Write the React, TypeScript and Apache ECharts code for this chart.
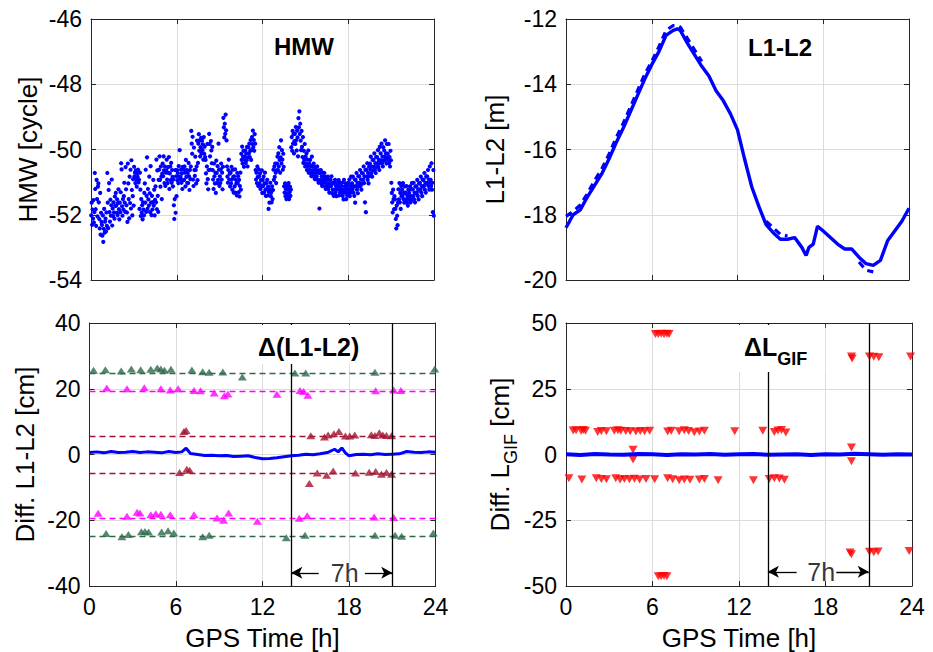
import React, { useEffect, useRef } from "react";
import * as echarts from "echarts";

// ---------- DATA ----------
const hmwBinHours = 0.25;
// HMW samples grouped in consecutive 0.25 h bins (values in cycles)
const hmwBins: number[][] = [
  [-52.02,-51.63,-52.31,-51.84,-52.12,-51.55,-52.24,-51.92],
  [-50.72,-51.21,-51.83,-52.34,-50.93,-51.52,-52.05,-51.14],
  [-51.04,-51.62,-52.13,-52.42,-51.33,-52.61,-51.94,-52.22],
  [-52.31,-52.64,-52.02,-52.83,-52.43,-51.82,-52.55,-52.21],
  [-52.12,-52.51,-51.93,-52.34,-50.72,-51.63,-52.41,-51.24],
  [-51.03,-51.92,-52.21,-51.54,-52.03,-51.71,-50.92,-52.33],
  [-51.81,-52.04,-51.62,-51.93,-52.12,-51.44,-51.73,-51.33],
  [-51.72,-51.94,-51.53,-52.01,-51.64,-51.22,-51.83,-52.14],
  [-51.63,-51.92,-51.31,-50.42,-50.61,-51.74,-52.03,-51.52],
  [-51.84,-51.43,-51.02,-51.63,-51.91,-50.54,-51.22,-51.71],
  [-51.93,-52.22,-50.43,-51.04,-51.52,-52.11,-50.83,-51.64],
  [-50.62,-51.81,-50.33,-51.24,-52.02,-51.43,-50.91,-51.72],
  [-50.53,-50.82,-50.71,-51.03,-50.64,-50.92,-51.14,-50.73],
  [-50.84,-50.62,-51.01,-50.93,-51.82,-50.71,-51.23,-52.04],
  [-51.52,-51.93,-51.71,-52.14,-51.62,-51.84,-52.02,-51.33],
  [-51.04,-51.63,-50.62,-51.91,-51.42,-50.24,-51.82,-51.21],
  [-51.53,-51.72,-50.83,-51.34,-51.92,-50.51,-51.63,-52.01],
  [-51.42,-51.84,-51.61,-50.93,-51.72,-51.23,-52.02,-51.54],
  [-51.13,-51.62,-50.31,-51.83,-50.64,-51.42,-51.91,-50.93],
  [-50.62,-50.21,-50.93,-51.14,-50.52,-50.83,-51.52,-50.74],
  [-50.43,-50.82,-50.21,-50.64,-51.03,-50.52,-51.12,-50.71],
  [-50.64,-50.31,-50.92,-51.03,-50.54,-50.72,-50.23,-51.21],
  [-50.73,-50.52,-50.94,-50.41,-51.02,-50.63,-50.84,-51.13],
  [-50.92,-51.71,-52.13,-51.52,-50.63,-51.94,-50.82,-51.43],
  [-50.63,-50.94,-50.72,-51.03,-50.51,-50.83,-50.02,-50.91],
  [-50.84,-50.62,-51.02,-50.73,-51.21,-50.53,-50.94,-50.61],
  [-50.93,-50.52,-50.71,-51.13,-50.32,-50.84,-50.63,-51.02],
  [-50.72,-51.03,-50.41,-50.82,-51.24,-50.63,-50.91,-50.52],
  [-49.43,-49.82,-50.13,-49.61,-50.92,-51.12,-49.94,-50.63],
  [-50.81,-50.22,-50.63,-51.04,-50.52,-49.73,-50.94,-50.41],
  [-49.82,-49.53,-50.04,-49.72,-50.21,-49.93,-49.64,-50.12],
  [-49.73,-50.02,-49.84,-50.31,-49.62,-50.13,-49.91,-50.23],
  [-50.32,-50.73,-51.04,-50.52,-49.83,-50.91,-51.22,-50.63],
  [-49.52,-49.83,-50.21,-50.62,-49.74,-50.03,-50.42,-49.92],
  [-50.63,-50.92,-51.21,-50.43,-50.82,-51.04,-50.71,-51.33],
  [-50.34,-50.72,-51.03,-50.51,-50.93,-49.82,-50.62,-51.12],
  [-50.82,-51.03,-50.61,-50.43,-50.92,-50.71,-51.22,-50.53],
  [-49.03,-49.32,-49.63,-49.21,-49.52,-48.93,-49.41,-49.72],
  [-50.52,-50.83,-51.02,-50.63,-50.31,-50.92,-50.74,-51.13],
  [-50.71,-51.04,-50.53,-50.92,-51.23,-50.62,-50.84,-51.32],
  [-50.82,-51.13,-50.61,-51.32,-50.93,-51.04,-51.41,-50.72],
  [-51.03,-50.82,-51.31,-50.93,-51.44,-51.12,-50.71,-51.23],
  [-50.13,-50.32,-49.91,-50.43,-50.22,-50.04,-50.53,-50.31],
  [-50.22,-50.03,-50.41,-50.12,-50.33,-49.92,-50.52,-50.24],
  [-49.93,-50.12,-49.82,-50.23,-50.04,-49.71,-50.32,-50.02],
  [-49.62,-49.83,-49.42,-49.93,-49.71,-50.04,-49.53,-49.82],
  [-50.63,-50.92,-50.71,-51.03,-50.52,-50.84,-51.12,-50.61],
  [-50.82,-51.04,-50.73,-51.21,-50.93,-51.12,-50.64,-51.33],
  [-50.93,-51.12,-50.83,-51.32,-51.04,-50.71,-51.23,-51.42],
  [-51.03,-51.22,-50.93,-51.41,-51.14,-51.82,-51.31,-51.63],
  [-51.23,-51.02,-51.43,-51.32,-51.62,-51.13,-51.52,-51.24],
  [-50.62,-50.93,-50.52,-50.84,-50.43,-50.71,-51.03,-50.64],
  [-50.43,-50.22,-50.63,-50.12,-50.52,-49.93,-50.32,-50.71],
  [-50.24,-49.72,-50.43,-50.02,-50.31,-50.62,-50.13,-50.53],
  [-51.13,-51.32,-51.04,-51.43,-51.22,-51.52,-51.12,-51.34],
  [-51.22,-51.43,-51.03,-51.52,-51.31,-51.14,-51.42,-51.23],
  [-49.93,-49.62,-50.04,-49.43,-49.82,-49.53,-50.12,-49.74],
  [-49.52,-49.83,-49.31,-49.72,-50.03,-49.42,-49.63,-50.21],
  [-49.04,-49.32,-48.83,-49.52,-49.21,-49.73,-50.02,-49.43],
  [-49.92,-50.23,-49.62,-50.41,-50.04,-50.32,-49.83,-50.52],
  [-50.22,-50.43,-50.12,-50.63,-50.31,-50.52,-50.03,-50.71],
  [-50.43,-50.62,-50.32,-50.73,-50.51,-50.82,-50.22,-50.64],
  [-50.52,-50.73,-50.43,-50.84,-50.62,-50.91,-50.53,-50.72],
  [-50.63,-50.82,-50.52,-50.93,-50.71,-51.02,-50.64,-51.81],
  [-50.72,-50.93,-50.63,-51.04,-50.82,-51.12,-50.71,-50.94],
  [-50.83,-51.02,-50.72,-51.13,-50.92,-51.21,-50.84,-51.03],
  [-50.92,-51.13,-50.83,-51.22,-51.04,-51.32,-50.93,-51.12],
  [-50.93,-51.12,-50.82,-51.34,-51.02,-51.23,-51.04,-51.42],
  [-51.02,-51.23,-50.93,-51.32,-51.12,-51.43,-51.04,-51.22],
  [-51.03,-51.22,-50.94,-51.41,-51.13,-51.32,-51.02,-51.24],
  [-51.12,-51.33,-51.02,-51.42,-51.22,-51.53,-50.93,-51.31],
  [-51.13,-51.32,-51.04,-51.52,-51.23,-51.41,-51.12,-51.34],
  [-51.02,-51.23,-50.92,-51.43,-51.12,-51.32,-50.83,-51.21],
  [-51.04,-51.22,-50.83,-51.32,-51.13,-51.42,-50.92,-51.63],
  [-50.93,-51.12,-50.72,-51.23,-51.02,-51.34,-50.82,-51.13],
  [-50.82,-51.03,-50.63,-51.12,-50.92,-51.23,-50.72,-51.04],
  [-50.73,-50.92,-50.52,-51.03,-50.82,-51.62,-50.63,-51.92],
  [-50.62,-50.83,-50.42,-50.93,-50.72,-51.04,-50.53,-50.82],
  [-50.43,-50.62,-50.22,-50.73,-50.52,-50.83,-50.32,-50.64],
  [-50.32,-50.53,-50.12,-50.63,-50.42,-50.72,-50.23,-50.54],
  [-50.23,-50.42,-50.02,-50.53,-50.32,-50.63,-49.92,-50.41],
  [-50.12,-50.33,-49.82,-50.43,-50.22,-50.52,-49.93,-50.34],
  [-50.03,-50.22,-49.72,-50.32,-50.12,-50.43,-49.83,-50.24],
  [-50.13,-50.32,-49.83,-50.42,-50.23,-50.52,-50.04,-50.33],
  [-51.02,-51.33,-51.62,-51.93,-51.23,-51.52,-51.83,-51.43],
  [-51.53,-51.82,-52.13,-52.42,-51.72,-52.03,-52.32,-51.63],
  [-51.22,-51.53,-51.03,-51.62,-51.33,-51.82,-51.12,-51.43],
  [-51.23,-51.42,-51.03,-51.52,-51.32,-51.63,-51.13,-51.34],
  [-51.32,-51.53,-51.12,-51.63,-51.42,-51.72,-51.23,-51.52],
  [-51.33,-51.52,-51.13,-51.62,-51.43,-51.22,-51.03,-51.54],
  [-51.22,-51.43,-51.02,-51.53,-51.32,-51.62,-51.13,-51.34],
  [-51.13,-51.32,-50.93,-51.42,-51.22,-51.53,-51.04,-51.23],
  [-51.02,-51.23,-50.83,-51.32,-51.12,-51.43,-50.92,-51.14],
  [-50.93,-51.12,-50.72,-51.23,-51.02,-51.32,-50.83,-51.04],
  [-50.82,-51.03,-50.63,-51.12,-50.92,-51.23,-50.52,-51.02],
  [-50.93,-51.12,-50.42,-51.23,-51.02,-51.92,-50.63,-52.03],
];

// L1-L2 (m)
const l1l2Times = [0,0.5,1,1.5,2,2.5,3,3.5,4,4.5,5,5.5,6,6.5,7,7.5,7.8,8,8.5,9,9.5,10,10.5,11,11.5,12,12.5,13,13.5,14,14.5,15,15.5,16,16.5,16.8,17,17.3,17.6,18,18.5,19,19.5,20,20.5,21,21.5,22,22.5,23,23.5,24];
const l1l2Main = [-18.4,-18.0,-17.85,-17.45,-17.1,-16.75,-16.3,-15.8,-15.35,-14.85,-14.35,-13.85,-13.4,-13.0,-12.5,-12.35,-12.3,-12.35,-12.75,-13.1,-13.45,-13.75,-14.2,-14.5,-14.9,-15.4,-16.3,-17.15,-17.75,-18.3,-18.55,-18.75,-18.75,-18.7,-19.0,-19.25,-19.0,-18.9,-18.35,-18.5,-18.7,-18.9,-19.05,-19.05,-19.3,-19.5,-19.55,-19.4,-18.8,-18.5,-18.2,-17.8];
const l1l2Second = [-18.05,-17.9,-17.7,-17.35,-16.95,-16.6,-16.15,-15.65,-15.2,-14.7,-14.2,-13.7,-13.3,-12.85,-12.35,-12.2,-12.2,-12.25,-12.6,-12.95,-13.3,null,null,null,null,null,null,null,null,-18.2,-18.4,-18.6,-18.65,null,null,null,null,null,null,null,null,null,null,null,-19.45,-19.7,-19.75,null,null,null,null,null];

// Diff. L1-L2 (cm)
const blTimes = [0,0.5,1,1.5,2,2.5,3,3.5,4,4.5,5,5.5,6,6.4,6.7,7,7.5,8,8.5,9,9.5,10,10.5,11,11.5,12,12.5,13,13.5,14,14.5,15,15.5,16,16.5,17,17.25,17.5,17.75,18,18.5,19,19.5,20,20.5,21,21.5,22,22.5,23,23.5,24];
const blDiff = [0.6,0.8,0.5,0.9,0.6,0.7,0.9,0.6,0.8,0.7,0.5,0.9,0.6,0.8,1.9,0.3,0.0,-0.3,-0.2,-0.4,-0.3,-0.6,-0.5,-0.4,-0.9,-1.3,-1.2,-1.0,-0.7,-0.4,-0.2,0.1,-0.1,0.2,0.6,1.6,0.8,2.0,0.5,-0.4,0.0,0.1,-0.1,0.2,0.0,0.1,0.2,0.9,0.7,0.6,0.8,0.7];
const greenLevel = 24.8;
const magentaLevel = 19.3;
const darkRedLevel = 5.6;
const greenTri = [[0.28,25.6],[1.1,25.8],[2.2,25.4],[2.9,26.0],[3.55,25.8],[4.25,25.9],[4.7,26.3],[4.95,26.0],[5.2,25.6],[5.65,25.9],[7.1,25.7],[7.85,25.2],[8.3,25.0],[9.25,25.1],[10.6,23.6],[14.25,24.8],[15.0,24.8],[19.8,25.0],[23.95,26.0],
  [1.15,-24.0],[2.25,-25.0],[2.7,-24.3],[3.6,-23.5],[3.85,-23.4],[4.1,-23.6],[5.0,-23.6],[5.45,-23.2],[5.85,-23.9],[7.85,-25.0],[8.3,-24.6],[13.65,-25.3],[14.95,-24.6],[19.8,-24.6],[21.2,-24.6],[21.65,-24.9],[23.85,-23.9]];
const magentaTri = [[1.2,20.2],[2.6,20.0],[3.8,20.3],[4.95,20.0],[5.6,19.6],[6.15,20.0],[7.25,19.5],[7.7,19.4],[8.65,18.7],[9.35,17.9],[9.6,18.4],[13.0,18.3],[14.6,19.5],[14.85,19.2],[15.15,18.0],[19.85,19.4],[21.1,19.6],[21.6,19.5],
  [0.6,-17.9],[2.6,-18.8],[3.3,-17.6],[3.5,-17.8],[4.25,-18.3],[4.6,-18.0],[4.95,-18.2],[5.6,-18.3],[7.25,-18.3],[8.85,-19.3],[9.3,-20.0],[9.65,-17.8],[11.65,-20.3],[14.55,-19.4],[15.1,-18.6],[19.75,-19.0],[21.1,-19.2]];
const darkRedTri = [[6.55,7.0],[6.7,7.3],[15.35,5.7],[16.3,5.3],[16.55,5.9],[16.95,6.3],[17.3,7.0],[17.75,5.6],[18.05,5.6],[18.4,5.9],[19.55,6.0],[19.8,5.8],[20.1,6.6],[20.35,5.9],[20.6,5.8],[20.95,5.7],
  [6.25,-5.5],[6.75,-4.5],[6.95,-4.8],[15.25,-8.8],[15.8,-5.6],[16.45,-6.3],[16.9,-5.0],[18.45,-5.6],[19.4,-5.4],[19.85,-5.2],[20.25,-6.0],[20.6,-5.5],[20.95,-6.0]];

// Diff. L_GIF (cm)
const gifTimes = [0,1,2,3,4,5,6,7,8,9,10,11,12,13,14,15,16,17,18,19,20,21,22,23,24];
const gifDiff = [0.1,-0.2,0.2,0.0,-0.1,0.2,0.1,-0.2,0.1,0.0,0.2,-0.1,0.1,0.2,-0.1,0.0,0.1,-0.2,0.1,0.0,0.3,0.1,-0.1,0.1,0.0];
const gifTri = [[6.2,45.8],[6.4,45.8],[6.6,45.9],[6.8,45.7],[7.0,45.9],[7.15,45.8],
  [6.4,-46.3],[6.6,-46.3],[6.8,-46.2],[7.0,-46.3],
  [19.8,37.3],[19.85,36.5],[21.05,37.3],[21.35,37.2],[21.7,37.0],[23.9,37.3],
  [19.7,-37.3],[19.8,-37.9],[21.05,-37.0],[21.35,-37.2],[21.65,-36.9],[23.8,-36.7],
  [0.5,9.1],[0.7,9.2],[1.05,9.0],[1.2,9.3],[1.35,9.0],[2.2,8.6],[2.45,8.9],[2.8,8.8],[3.35,9.0],[3.6,9.2],[3.8,9.0],[4.15,8.9],[4.45,8.8],[4.85,8.7],[5.15,8.9],[5.45,8.8],[5.8,9.0],[7.05,8.7],[7.3,9.0],[7.85,8.8],[8.2,9.2],[8.5,8.9],[8.9,8.5],[9.25,8.7],[9.6,9.0],[11.7,8.8],[13.65,9.0],[14.45,8.6],[14.7,9.1],[14.95,9.3],[15.25,8.4],
  [0.2,-9.0],[1.1,-9.5],[2.1,-9.0],[2.45,-9.3],[2.8,-9.4],[3.45,-9.0],[3.75,-9.5],[4.05,-9.3],[4.4,-9.4],[4.75,-9.2],[5.1,-9.5],[5.55,-9.3],[6.15,-9.4],[7.05,-9.0],[7.4,-9.4],[7.85,-9.8],[8.2,-9.5],[8.6,-9.6],[9.25,-9.5],[9.6,-9.3],[10.55,-9.8],[13.0,-9.8],[14.1,-9.3],[14.45,-9.0],[14.8,-9.1],[15.15,-9.6],
  [4.65,1.8],[4.65,-1.9],[19.8,2.7],[19.8,-2.6]];

// 7 h window annotation
const windowStart = 14;
const windowEnd = 21;
const windowLabel = "7h";

// ---------- STYLE ----------
const FONT = "'Liberation Sans', Arial, Helvetica, sans-serif";
const AXIS = "#262626";
const GRIDC = "#dcdcdc";
const BLUE = "#0000ff";
const GREEN = "#2d6a4a";
const MAGENTA = "#ff00ff";
const DARKRED = "#a2142f";
const RED = "#ff0000";

const grids = [
  { left: 91, top: 19, width: 343, height: 261 },
  { left: 566, top: 19, width: 343, height: 261 },
  { left: 89.5, top: 323, width: 346, height: 263 },
  { left: 566, top: 323, width: 346, height: 263 },
];

const axisLine = { show: true, onZero: false, lineStyle: { color: AXIS, width: 1 } };
const axisTick = { show: true, inside: true, length: 5, lineStyle: { color: AXIS, width: 1 } };

function xAxes(g: number, labels: boolean, name: string) {
  return [
    {
      gridIndex: g, type: "value", min: 0, max: 24, interval: 6, position: "bottom",
      axisLine, axisTick,
      axisLabel: { show: labels, color: "#000", fontSize: 23, fontFamily: FONT, margin: 9 },
      splitLine: { show: true, lineStyle: { color: GRIDC, width: 1 } },
      name, nameLocation: "middle", nameGap: 39,
      nameTextStyle: { fontSize: 26, color: "#000", fontFamily: FONT },
    },
    {
      gridIndex: g, type: "value", min: 0, max: 24, interval: 6, position: "top",
      axisLine, axisTick, axisLabel: { show: false }, splitLine: { show: false },
    },
  ];
}

function yAxes(g: number, min: number, max: number, interval: number, name: string, gap: number, rich?: any) {
  return [
    {
      gridIndex: g, type: "value", min, max, interval, position: "left",
      axisLine, axisTick,
      axisLabel: { color: "#000", fontSize: 23, fontFamily: FONT, margin: 9 },
      splitLine: { show: true, lineStyle: { color: GRIDC, width: 1 } },
      name, nameLocation: "middle", nameGap: gap, nameRotate: 90,
      nameTextStyle: { fontSize: 26, color: "#000", fontFamily: FONT, ...(rich ? { rich } : {}) },
    },
    {
      gridIndex: g, type: "value", min, max, interval, position: "right",
      axisLine, axisTick, axisLabel: { show: false }, splitLine: { show: false },
    },
  ];
}

function verticalMarks() {
  return {
    silent: true,
    symbol: ["none", "none"],
    label: { show: false },
    lineStyle: { color: "#000", width: 1.3, type: "solid" },
    data: [{ xAxis: windowStart }, { xAxis: windowEnd }],
  };
}

function arrowMarks(y: number, leftArrowTail: number, rightArrowTail: number) {
  return {
    silent: true,
    symbol: ["none", "arrow"],
    symbolSize: [9, 11],
    label: { show: false },
    lineStyle: { color: "#000", width: 1.3, type: "solid" },
    data: [
      [{ coord: [leftArrowTail, y] }, { coord: [windowStart, y] }],
      [{ coord: [rightArrowTail, y] }, { coord: [windowEnd, y] }],
    ],
  };
}

function buildOption() {
  const hmwPoints = hmwBins.flatMap((bin, i) =>
    bin.map((v, k) => [i * hmwBinHours + ((k + 0.5) * hmwBinHours) / bin.length, v])
  );
  const l1l2A = l1l2Times.map((t, i) => [t, l1l2Main[i]]);
  const l1l2B = l1l2Times.map((t, i) => [t, l1l2Second[i]]);
  const blLine = blTimes.map((t, i) => [t, blDiff[i]]);
  const gifLine = gifTimes.map((t, i) => [t, gifDiff[i]]);
  const midWindow = (windowStart + windowEnd) / 2 + 0.2;

  const titleStyle = { fontSize: 24, fontWeight: "bold", color: "#000", fontFamily: FONT };
  const sevenLabel = { show: true, position: "inside", formatter: windowLabel, fontSize: 25, color: "#000", fontFamily: FONT, textBorderWidth: 0 };

  return {
    animation: false,
    backgroundColor: "#fff",
    title: [
      { text: "HMW", left: 274, top: 34, padding: 0, textStyle: titleStyle },
      { text: "L1-L2", left: 748, top: 35, padding: 0, textStyle: titleStyle },
      {
        text: "Δ(L1-L2)", left: 252, top: 325, padding: [8, 5, 4, 6], backgroundColor: "#fff",
        textStyle: { ...titleStyle, fontSize: 25, lineHeight: 27 },
      },
      {
        text: "{m|ΔL}{s|GIF}", left: 733, top: 325, padding: [9, 18, 4, 11], backgroundColor: "#fff",
        textStyle: {
          rich: {
            m: { fontSize: 25, fontWeight: "bold", color: "#000", fontFamily: FONT, verticalAlign: "top", lineHeight: 27 },
            s: { fontSize: 18, fontWeight: "bold", color: "#000", fontFamily: FONT, verticalAlign: "top", lineHeight: 20, padding: [16, 0, 0, 0] },
          },
        },
      },
    ],
    grid: grids.map((g) => ({ ...g, containLabel: false })),
    xAxis: [
      ...xAxes(0, false, ""),
      ...xAxes(1, false, ""),
      ...xAxes(2, true, "GPS Time [h]"),
      ...xAxes(3, true, "GPS Time [h]"),
    ],
    yAxis: [
      ...yAxes(0, -54, -46, 2, "HMW [cycle]", 50),
      ...yAxes(1, -20, -12, 2, "L1-L2 [m]", 58),
      ...yAxes(2, -40, 40, 20, "Diff. L1-L2 [cm]", 52),
      ...yAxes(3, -50, 50, 25, "{n|Diff. L}{s|GIF}{n| [cm]}", 50, {
        n: { fontSize: 26, color: "#000", fontFamily: FONT, verticalAlign: "top", lineHeight: 28 },
        s: { fontSize: 18, color: "#000", fontFamily: FONT, verticalAlign: "top", lineHeight: 20, padding: [15, 0, 0, 0] },
      }),
    ],
    series: [
      {
        type: "scatter", xAxisIndex: 0, yAxisIndex: 0, data: hmwPoints,
        symbol: "circle", symbolSize: 4.2, itemStyle: { color: BLUE, opacity: 1 }, silent: true,
      },
      {
        type: "line", xAxisIndex: 2, yAxisIndex: 2, data: l1l2B, showSymbol: false, connectNulls: false,
        lineStyle: { color: BLUE, width: 3.2, type: [7, 5] }, silent: true,
      },
      {
        type: "line", xAxisIndex: 2, yAxisIndex: 2, data: l1l2A, showSymbol: false,
        lineStyle: { color: BLUE, width: 3.4 }, silent: true,
      },
      // bottom-left
      {
        type: "line", xAxisIndex: 4, yAxisIndex: 4, data: blLine, showSymbol: false,
        lineStyle: { color: BLUE, width: 3 }, silent: true,
        markLine: {
          silent: true, symbol: ["none", "none"], label: { show: false },
          lineStyle: { type: [6, 4], width: 1.4 },
          data: [
            { yAxis: greenLevel, lineStyle: { color: GREEN } },
            { yAxis: -greenLevel, lineStyle: { color: GREEN } },
            { yAxis: magentaLevel, lineStyle: { color: MAGENTA } },
            { yAxis: -magentaLevel, lineStyle: { color: MAGENTA } },
            { yAxis: darkRedLevel, lineStyle: { color: DARKRED } },
            { yAxis: -darkRedLevel, lineStyle: { color: DARKRED } },
          ],
        },
      },
      {
        type: "scatter", xAxisIndex: 4, yAxisIndex: 4, data: greenTri, symbol: "triangle",
        symbolSize: [9, 7], itemStyle: { color: GREEN }, silent: true,
        markLine: verticalMarks(),
      },
      {
        type: "scatter", xAxisIndex: 4, yAxisIndex: 4, data: magentaTri, symbol: "triangle",
        symbolSize: [9, 7], itemStyle: { color: MAGENTA }, silent: true,
      },
      {
        type: "scatter", xAxisIndex: 4, yAxisIndex: 4, data: darkRedTri, symbol: "triangle",
        symbolSize: [9, 7], itemStyle: { color: DARKRED }, silent: true,
      },
      {
        type: "scatter", xAxisIndex: 4, yAxisIndex: 4, data: [[midWindow, -36]], symbolSize: 0,
        silent: true, itemStyle: { color: "#000" },
        label: sevenLabel,
        markLine: arrowMarks(-36, 15.9, 19.1),
      },
      // bottom-right
      {
        type: "line", xAxisIndex: 6, yAxisIndex: 6, data: gifLine, showSymbol: false,
        lineStyle: { color: BLUE, width: 4 }, silent: true,
        markLine: verticalMarks(),
      },
      {
        type: "scatter", xAxisIndex: 6, yAxisIndex: 6, data: gifTri, symbol: "triangle", symbolRotate: 180,
        symbolSize: [9, 8], itemStyle: { color: RED }, silent: true,
      },
      {
        type: "scatter", xAxisIndex: 6, yAxisIndex: 6, data: [[midWindow, -44.6]], symbolSize: 0,
        silent: true, itemStyle: { color: "#000" },
        label: sevenLabel,
        markLine: arrowMarks(-44.6, 16.0, 18.75),
      },
    ],
  };
}

export default function App() {
  const ref = useRef<HTMLDivElement>(null);
  useEffect(() => {
    if (!ref.current) return;
    const chart = echarts.init(ref.current, null, { renderer: "svg" });
    chart.setOption(buildOption() as any);
    return () => chart.dispose();
  }, []);
  return (
    <div
      ref={ref}
      style={{ position: "absolute", left: 0, top: 0, width: 933, height: 652, background: "#fff" }}
    />
  );
}
